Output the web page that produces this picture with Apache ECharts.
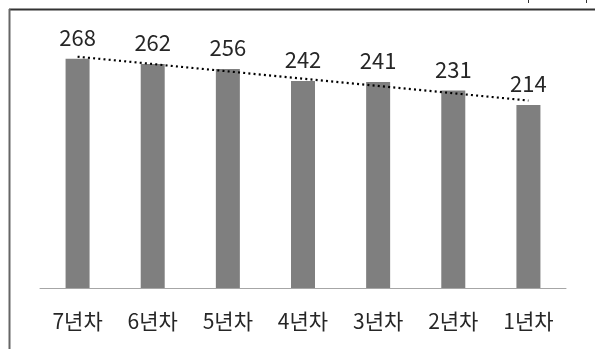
<!DOCTYPE html>
<html><head><meta charset="utf-8">
<script src="https://cdn.jsdelivr.net/npm/echarts@6/dist/echarts.min.js"></script>
<style>html,body{margin:0;padding:0;background:#fff}#c{width:595px;height:349px}</style>
</head><body><div id="c"></div>
<script>
var categories = ['7년차','6년차','5년차','4년차','3년차','2년차','1년차'];
var values = [268, 262, 256, 242, 241, 231, 214];
// linear trendline endpoints (at first and last category)
var trendValues = [270.5, '-', '-', '-', '-', '-', 219.2];

var chart = echarts.init(document.getElementById('c'));
var FONT = '"Noto Sans CJK KR", "Noto Sans", sans-serif';
chart.setOption({
  animation: false,
  backgroundColor: '#fff',
  grid: {left: 40, right: 29, top: 31.5, bottom: 61},
  xAxis: {
    type: 'category', data: categories,
    axisLine: {lineStyle: {color: '#a6a6a6', width: 1}},
    axisTick: {show: false},
    axisLabel: {color: '#262626', fontSize: 21, fontFamily: FONT, margin: 23}
  },
  yAxis: {
    type: 'value', min: 0, max: 300, show: false,
    splitLine: {show: false}
  },
  series: [
    {
      type: 'bar', data: values, barWidth: 24,
      itemStyle: {color: '#7f7f7f'},
      label: {show: true, position: 'top', distance: 10, color: '#262626', fontSize: 22, fontFamily: FONT}
    },
    {
      type: 'line', data: trendValues, connectNulls: true, symbol: 'none', z: 5,
      lineStyle: {color: '#000', width: 2.2, type: [2, 3.2]}
    }
  ],
  graphic: [
    {type: 'line', shape: {x1: 9, y1: 9.5, x2: 595, y2: 9.5}, style: {stroke: '#333', lineWidth: 2}},
    {type: 'line', shape: {x1: 9.5, y1: 9, x2: 9.5, y2: 349}, style: {stroke: '#666', lineWidth: 2}},
    {type: 'line', shape: {x1: 528.5, y1: 0, x2: 528.5, y2: 3}, style: {stroke: '#333', lineWidth: 1}},
    {type: 'line', shape: {x1: 586.5, y1: 0, x2: 586.5, y2: 3}, style: {stroke: '#333', lineWidth: 1}}
  ]
});
</script></body></html>
